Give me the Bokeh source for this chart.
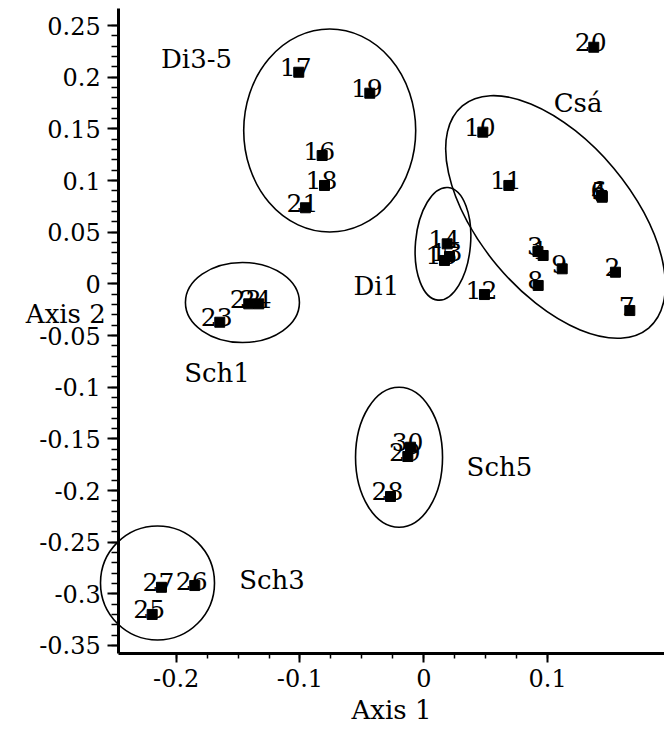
from bokeh.plotting import figure
from bokeh.models import (ColumnDataSource, LinearAxis, FixedTicker,
                          PrintfTickFormatter, Label)
from bokeh.core.properties import value
from bokeh.embed import file_html
from bokeh.resources import INLINE

# ---- data ----
sample_ids = ["1", "2", "3", "4", "5", "6", "7", "8", "9", "10",
              "11", "12", "13", "14", "15", "16", "17", "18", "19", "20",
              "21", "22", "23", "24", "25", "26", "27", "28", "29", "30"]
axis1_scores = [0.0964, 0.1548, 0.0922, 0.1441, 0.1441, 0.1436, 0.1664, 0.0924, 0.1118, 0.0477,
                0.0687, 0.0490, 0.0208, 0.0189, 0.0167, -0.0821, -0.1010, -0.0802, -0.0436, 0.1373,
                -0.0956, -0.1414, -0.1648, -0.1333, -0.2194, -0.1850, -0.2119, -0.0269, -0.0129, -0.0107]
axis2_scores = [0.0275, 0.0113, 0.0314, 0.0839, 0.0850, 0.0856, -0.0258, -0.0015, 0.0146, 0.1469,
                0.0953, -0.0103, 0.0265, 0.0388, 0.0227, 0.1243, 0.2049, 0.0953, 0.1846, 0.2291,
                0.0737, -0.0193, -0.0371, -0.0193, -0.3200, -0.2920, -0.2937, -0.2058, -0.1671, -0.1581]

group_names = ["Di3-5", "Csá", "Di1", "Sch1", "Sch5", "Sch3"]
group_label_x = [-0.1836, 0.1246, -0.0383, -0.1670, 0.0611, -0.1226]
group_label_y = [0.2182, 0.1756, -0.0020, -0.0867, -0.1772, -0.2862]
group_center_x = [-0.0760, 0.1064, 0.0155, -0.1465, -0.0200, -0.2151]
group_center_y = [0.1485, 0.0648, 0.0388, -0.0180, -0.1678, -0.2895]

x_major_ticks = [-0.2, -0.1, 0.0, 0.1]
y_major_ticks = [-0.35, -0.3, -0.25, -0.2, -0.15, -0.1, -0.05, 0.0, 0.05, 0.1, 0.15, 0.2, 0.25]

# ---- styles (ellipse sizes in screen pixels) ----
ellipse_w = [172, 290, 55, 114, 87, 114]
ellipse_h = [203, 152, 113, 80, 140, 114]
ellipse_angle = [0.0, -0.873, -0.09, 0.0, 0.0, 0.0]

FONT = "DejaVu Serif"

x_minor_ticks = [round(x_major_ticks[0] + 0.025 * i, 4)
                 for i in range(int(round((x_major_ticks[-1] - x_major_ticks[0]) / 0.025)) + 1)]
y_minor_ticks = [round(y_major_ticks[0] + 0.01 * i, 4)
                 for i in range(int(round((y_major_ticks[-1] - y_major_ticks[0]) / 0.01)) + 1)]

p = figure(width=664, height=729,
           x_range=(-0.34192, 0.19443), y_range=(-0.43136, 0.27435),
           x_axis_type=None, y_axis_type=None,
           toolbar_location=None, output_backend="svg", min_border=0)
p.outline_line_color = None
p.background_fill_color = "white"
p.border_fill_color = "white"

x_left = -0.2464
y_bottom = -0.3575

xa = LinearAxis(fixed_location=y_bottom, bounds=(x_left, 0.1944),
                ticker=FixedTicker(ticks=x_major_ticks, minor_ticks=x_minor_ticks),
                formatter=PrintfTickFormatter(format="%g"))
ya = LinearAxis(fixed_location=x_left, bounds=(y_bottom, 0.2666),
                ticker=FixedTicker(ticks=y_major_ticks, minor_ticks=y_minor_ticks),
                formatter=PrintfTickFormatter(format="%g"))
for ax in (xa, ya):
    ax.axis_line_width = 3
    ax.axis_line_color = "black"
    ax.major_tick_line_width = 2
    ax.minor_tick_line_width = 1.5
    ax.major_tick_in = 0
    ax.minor_tick_in = 0
    ax.major_label_text_font = FONT
    ax.major_label_text_font_size = "24px"
    ax.major_label_text_color = "black"
    ax.axis_label_text_font = FONT
    ax.axis_label_text_font_size = "26px"
    ax.axis_label_text_font_style = "normal"
    ax.axis_label_text_color = "black"
xa.major_tick_out = 9
xa.minor_tick_out = 5
xa.major_label_standoff = 7
xa.axis_label = "Axis 1"
xa.axis_label_standoff = 4
ya.major_tick_out = 11
ya.minor_tick_out = 7
ya.major_label_standoff = 7
p.add_layout(xa, "below")
p.add_layout(ya, "left")

p.add_layout(Label(x=x_left, y=-0.0287, text="Axis 2", text_align="right",
                   text_baseline="middle", x_offset=-13,
                   text_font=FONT, text_font_size="26px", text_color="black"))

# group ellipses
gsrc = ColumnDataSource(dict(x=group_center_x, y=group_center_y, w=ellipse_w,
                             h=ellipse_h, a=ellipse_angle,
                             lx=group_label_x, ly=group_label_y, name=group_names))
p.ellipse(x="x", y="y", width="w", height="h", angle="a",
          width_units="screen", height_units="screen", source=gsrc,
          fill_color=None, line_color="black", line_width=1.6)
p.text(x="lx", y="ly", text="name", source=gsrc, text_align="center",
       text_baseline="middle", text_font=value(FONT), text_font_size="26px",
       text_color="black")

# samples
src = ColumnDataSource(dict(x=axis1_scores, y=axis2_scores, label=sample_ids))
p.scatter(x="x", y="y", source=src, marker="square", size=10,
          fill_color="black", line_color="black")
p.text(x="x", y="y", text="label", source=src, text_align="center",
       text_baseline="alphabetic", x_offset=-3, y_offset=-5,
       text_font=value(FONT), text_font_size="25px", text_color="black")

open("out.html", "w").write(file_html(p, INLINE))
